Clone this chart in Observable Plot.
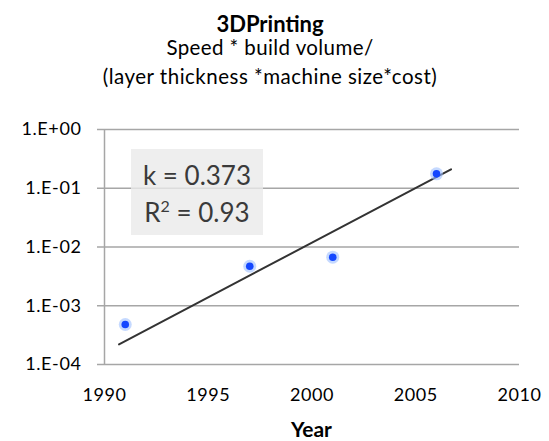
<!DOCTYPE html>
<html><head><meta charset="utf-8">
<script src="https://cdn.jsdelivr.net/npm/d3@7"></script>
<script src="https://cdn.jsdelivr.net/npm/@observablehq/plot@0.6"></script>
<style>
body{margin:0;background:#fff;font-family:Lato,"Open Sans",sans-serif;}
#wrap{position:relative;width:549px;height:441px;overflow:hidden;}
.t{position:absolute;left:0;width:540px;text-align:center;color:#000;white-space:nowrap;line-height:1;}
#chart{position:absolute;left:0;top:100px;}
#box{position:absolute;left:131px;top:149px;width:132px;height:86px;background:rgba(234,234,234,0.8);font-size:26px;color:#3a3a3a;}
#box div{position:absolute;left:0;width:132px;text-align:center;line-height:1;}
</style></head>
<body><div id="wrap">
<div class="t" style="top:13px;font-size:22px;font-weight:bold;">3DPrinting</div>
<div class="t" style="top:37px;font-size:20.5px;letter-spacing:0.4px;">Speed * build volume/</div>
<div class="t" style="top:66px;font-size:20.5px;letter-spacing:0.5px;">(layer thickness *machine size*cost)</div>
<div id="chart"></div>
<div id="box"><div style="top:13px">k = 0.373</div><div style="top:50px">R<sup style="font-size:16px;vertical-align:10px;line-height:0">2</sup> = 0.93</div></div>
<div class="t" style="top:418px;left:0;width:623px;font-size:21px;font-weight:bold;">Year</div>
</div>
<script>
const years = [1991, 1997, 2001, 2006];
const values = [4.8e-4, 4.7e-3, 6.7e-3, 0.176];
const trendYears = [1990.7, 2006.7];
const trendValues = [2.2e-4, 0.21];
const yTicks = [1e-4, 1e-3, 1e-2, 1e-1, 1];
const xTicks = [1990, 1995, 2000, 2005, 2010];

const pts = years.map((x, i) => ({x, y: values[i]}));
const trend = trendYears.map((x, i) => ({x, y: trendValues[i]}));
const fmt = d => { const e = Math.round(Math.log10(d)); return "1.E" + (e >= 0 ? "+" : "-") + String(Math.abs(e)).padStart(2, "0"); };

const chart = Plot.plot({
  width: 549, height: 341,
  marginTop: 29, marginBottom: 77, marginLeft: 104, marginRight: 30,
  style: {fontFamily: "Lato, 'Open Sans', sans-serif", fontSize: "18px", color: "#000", background: "transparent", letterSpacing: "0.6px"},
  x: {domain: [1990, 2010]},
  y: {type: "log", domain: [1e-4, 1]},
  marks: [
    Plot.gridY(yTicks, {stroke: "#a6a6a6", strokeOpacity: 1, strokeWidth: 1.5}),
    Plot.ruleX([1990], {stroke: "#a6a6a6", strokeWidth: 1.5}),
    Plot.axisY(yTicks, {tickFormat: fmt, tickSize: 7, tickPadding: 16, stroke: "#a6a6a6", strokeWidth: 1.5, fontSize: 18, label: null}),
    Plot.axisX(xTicks, {tickFormat: d => String(d), tickSize: 0, tickPadding: 24, fontSize: 18, label: null}),
    Plot.line(trend, {x: "x", y: "y", stroke: "#333", strokeWidth: 2}),
    Plot.dot(pts, {x: "x", y: "y", r: 6.5, fill: "#9fc0ff", fillOpacity: 0.6, stroke: "none"}),
    Plot.dot(pts, {x: "x", y: "y", r: 3.8, fill: "#1447ff", stroke: "none"})
  ]
});
document.getElementById("chart").append(chart);
</script>
</body></html>
